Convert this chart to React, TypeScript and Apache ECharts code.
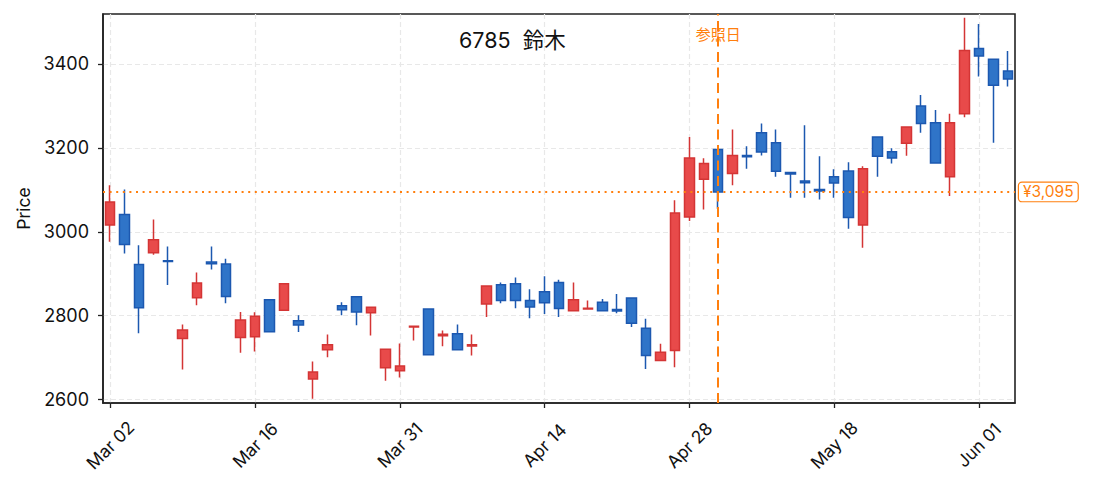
import React, { useEffect, useRef } from "react";
import * as echarts from "echarts";

const dates = ["Mar 02","Mar 03","Mar 04","Mar 05","Mar 06","Mar 09","Mar 10","Mar 11","Mar 12","Mar 13","Mar 16","Mar 17","Mar 18","Mar 19","Mar 23","Mar 24","Mar 25","Mar 26","Mar 27","Mar 30","Mar 31","Apr 01","Apr 02","Apr 03","Apr 06","Apr 07","Apr 08","Apr 09","Apr 10","Apr 13","Apr 14","Apr 15","Apr 16","Apr 17","Apr 20","Apr 21","Apr 22","Apr 23","Apr 24","Apr 27","Apr 28","Apr 30","May 01","May 07","May 08","May 11","May 12","May 13","May 14","May 15","May 18","May 19","May 20","May 21","May 22","May 25","May 26","May 27","May 28","May 29","Jun 01","Jun 02","Jun 03"];

const opens = [3016,3041,2922,2950,2931,2746,2843,2928,2923,2748,2750,2838,2813,2788,2649,2719,2824,2845,2807,2676,2669,2773,2816,2752,2757,2728,2828,2874,2876,2836,2857,2879,2812,2816,2832,2815,2842,2770,2693,2717,3035,3125,3196,3139,3182,3236,3212,3141,3121,3101,3131,3145,3016,3226,3191,3211,3300,3260,3131,3281,3437,3411,3383];
const closes = [3071,2970,2819,2981,2929,2766,2878,2924,2846,2790,2799,2762,2876,2778,2666,2731,2814,2809,2820,2720,2680,2775,2707,2756,2719,2731,2871,2836,2836,2821,2831,2817,2838,2818,2812,2811,2782,2705,2713,3045,3176,3163,3095,3182,3179,3190,3144,3138,3117,3097,3116,3034,3150,3180,3176,3250,3258,3164,3260,3432,3419,3349,3364];
const lows = [2976,2948,2758,2945,2873,2672,2825,2910,2830,2712,2715,2760,2812,2761,2602,2701,2801,2777,2753,2645,2653,2741,2706,2727,2718,2705,2797,2830,2818,2794,2804,2797,2811,2815,2810,2806,2773,2673,2692,2677,3026,3053,3055,3111,3150,3182,3131,3081,3081,3077,3081,3007,2962,3131,3163,3181,3236,3162,3085,3273,3370,3212,3346];
const highs = [3111,3101,2968,3029,2965,2779,2903,2965,2936,2809,2808,2840,2877,2801,2691,2755,2832,2846,2821,2721,2734,2776,2817,2765,2779,2755,2872,2879,2891,2863,2894,2886,2879,2836,2840,2852,2843,2793,2733,3075,3226,3175,3198,3244,3204,3258,3244,3143,3254,3180,3149,3166,3156,3227,3199,3251,3326,3290,3281,3510,3495,3412,3431];

const yTickValues = [2600, 2800, 3000, 3200, 3400];
const yMin = 2592;
const yMax = 3519;
const refDate = "May 01";
const refPrice = 3095;
const refPriceLabel = "¥3,095";
const refDateLabel = "参照日";
const titleText = "6785  鈴木";

const FONT = "Inter, 'Noto Sans CJK JP', sans-serif";
const ORANGE = "#ff7f0e";

export default function App() {
  const ref = useRef<HTMLDivElement>(null);
  useEffect(() => {
    if (!ref.current) return;
    const chart = echarts.init(ref.current, null, { renderer: "svg" });
    const data = dates.map((_, i) => [opens[i], closes[i], lows[i], highs[i]]);
    chart.setOption({
      animation: false,
      backgroundColor: "#ffffff",
      textStyle: { fontFamily: FONT },
      title: {
        text: titleText,
        left: 459,
        top: 29,
        padding: 0,
        textStyle: { fontFamily: FONT, fontSize: 21.5, fontWeight: "normal", color: "#111" },
      },
      grid: {
        left: 103,
        right: 78,
        top: 14,
        bottom: 88,
        show: true,
        borderColor: "#222",
        borderWidth: 1.6,
        backgroundColor: "transparent",
      },
      xAxis: {
        type: "category",
        data: dates,
        boundaryGap: true,
        axisLine: { show: true, lineStyle: { color: "#222", width: 1.6 } },
        axisTick: { show: true, interval: 9, alignWithLabel: true, length: 5, lineStyle: { color: "#222", width: 1.3 } },
        axisLabel: {
          interval: 9,
          rotate: 45,
          align: "center",
          verticalAlign: "middle",
          margin: 42,
          fontSize: 17.5,
          color: "#111",
          fontFamily: FONT,
        },
        splitLine: {
          show: true,
          interval: 9,
          alignWithLabel: true,
          lineStyle: { color: "#e8e8e8", type: [5, 3], width: 1.2 },
        },
      },
      yAxis: {
        type: "value",
        min: yMin,
        max: yMax,
        name: "Price",
        nameLocation: "middle",
        nameGap: 71,
        nameTextStyle: { fontSize: 17.5, color: "#111", fontFamily: FONT },
        axisLine: { show: true, lineStyle: { color: "#222", width: 1.6 } },
        axisTick: { show: true, length: 5, customValues: yTickValues, lineStyle: { color: "#222", width: 1.3 } },
        axisLabel: {
          customValues: yTickValues,
          formatter: (v: number) => String(v),
          fontSize: 18,
          color: "#111",
          margin: 14,
          fontFamily: FONT,
        },
        splitLine: { show: true, lineStyle: { color: "#e8e8e8", type: [5, 3], width: 1.2 } },
      },
      series: [
        {
          type: "candlestick",
          data,
          barWidth: 10,
          itemStyle: {
            color: "#e84a4a",
            borderColor: "#d43535",
            color0: "#2f74c8",
            borderColor0: "#1c58b0",
            borderWidth: 1.5,
          },
          markLine: {
            silent: true,
            symbol: ["none", "none"],
            data: [
              {
                yAxis: refPrice,
                lineStyle: { color: ORANGE, type: [2, 4.6], width: 2 },
                label: {
                  show: true,
                  position: "end",
                  distance: 4,
                  formatter: refPriceLabel,
                  color: ORANGE,
                  fontSize: 15.5,
                  fontFamily: FONT,
                  backgroundColor: "#ffffff",
                  borderColor: ORANGE,
                  borderWidth: 1.2,
                  borderRadius: 3,
                  padding: [2, 4, 1, 4],
                },
              },
              {
                xAxis: refDate,
                lineStyle: { color: ORANGE, type: [10, 5.5], width: 2 },
                label: { show: false },
              },
            ],
          },
          markPoint: {
            silent: true,
            symbol: "circle",
            symbolSize: 0.01,
            itemStyle: { color: "transparent" },
            data: [
              {
                coord: [refDate, yMax],
                label: {
                  show: true,
                  position: "bottom",
                  distance: 13,
                  formatter: refDateLabel,
                  color: ORANGE,
                  fontSize: 15,
                  fontFamily: FONT,
                },
              },
            ],
          },
        },
      ],
    });
    return () => chart.dispose();
  }, []);
  return (
    <div
      ref={ref}
      style={{ position: "fixed", left: 0, top: 0, width: 1093, height: 491, background: "#fff" }}
    />
  );
}
